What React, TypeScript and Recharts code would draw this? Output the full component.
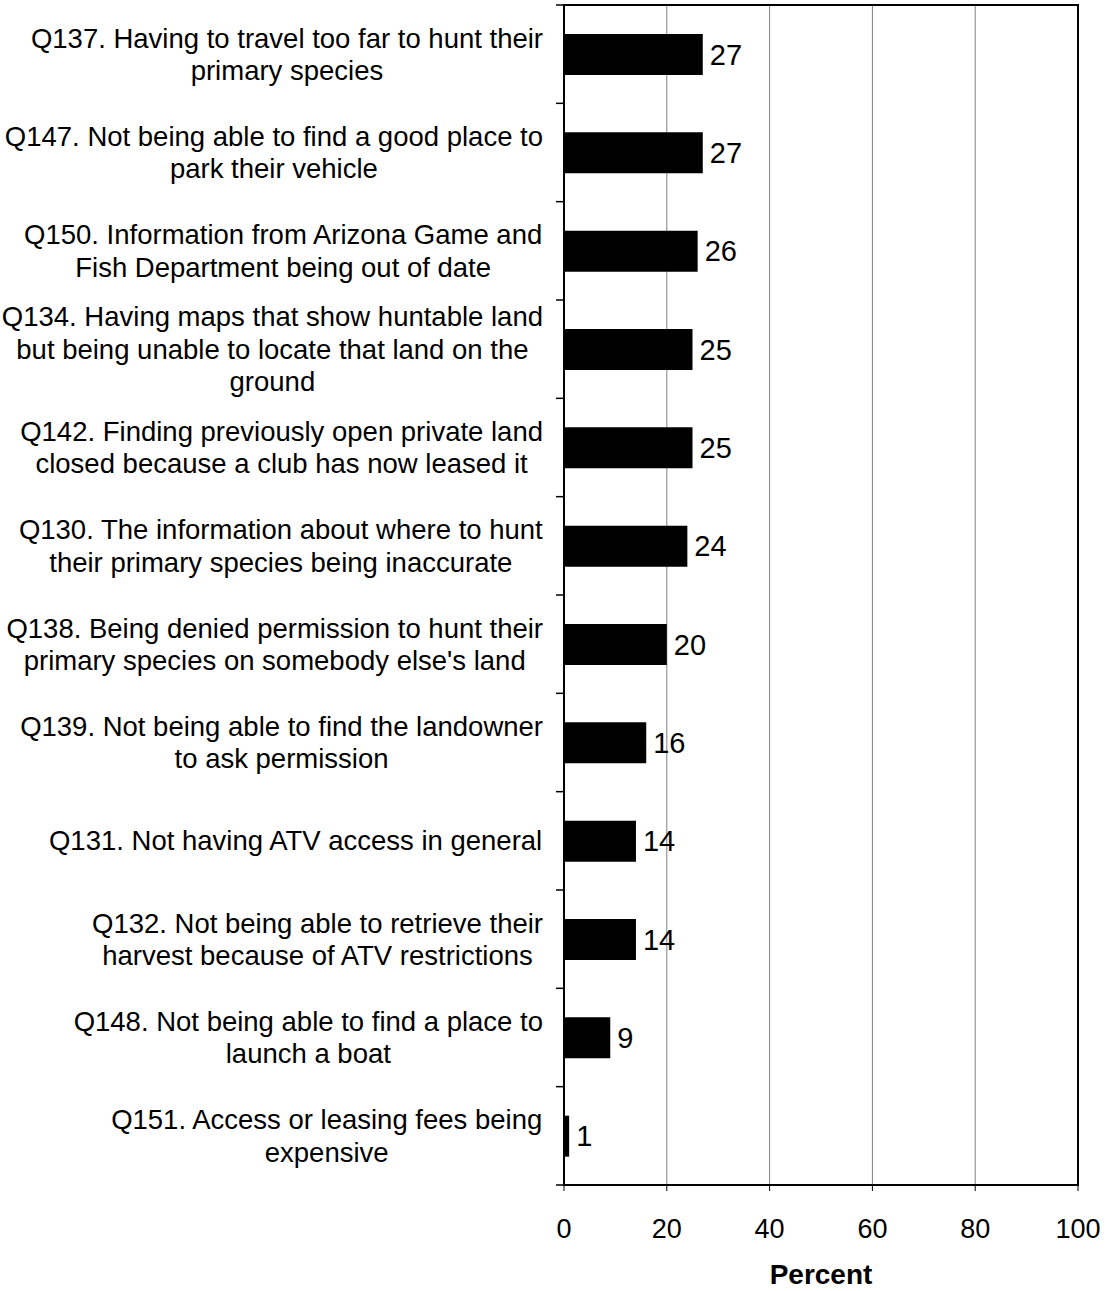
import React from "react";
import {
  BarChart,
  Bar,
  XAxis,
  YAxis,
  CartesianGrid,
  LabelList,
  ReferenceArea,
} from "recharts";

const questions = [
  "Q137. Having to travel too far to hunt their\nprimary species",
  "Q147. Not being able to find a good place to\npark their vehicle",
  "Q150. Information from Arizona Game and\nFish Department being out of date",
  "Q134. Having maps that show huntable land\nbut being unable to locate that land on the\nground",
  "Q142. Finding previously open private land\nclosed because a club has now leased it",
  "Q130. The information about where to hunt\ntheir primary species being inaccurate",
  "Q138. Being denied permission to hunt their\nprimary species on somebody else's land",
  "Q139. Not being able to find the landowner\nto ask permission",
  "Q131. Not having ATV access in general",
  "Q132. Not being able to retrieve their\nharvest because of ATV restrictions",
  "Q148. Not being able to find a place to\nlaunch a boat",
  "Q151. Access or leasing fees being\nexpensive",
];

const percents = [27, 27, 26, 25, 25, 24, 20, 16, 14, 14, 9, 1];

const percentTicks = [0, 20, 40, 60, 80, 100];

const data = questions.map((q, i) => ({ question: q, percent: percents[i] }));

const W = 1108;
const H = 1291;
const TOP = 5;
const X_AXIS_H = 106;
const Y_AXIS_W = 564;
const PLOT_H = H - TOP - X_AXIS_H;
const FONT = '"Liberation Sans", Arial, sans-serif';
const LABEL_SIZE = 27.5;
const LINE_H = 32.5;

let ctx: CanvasRenderingContext2D | null = null;
function measure(s: string) {
  if (!ctx) {
    ctx = document.createElement("canvas").getContext("2d");
  }
  if (!ctx) return s.length * LABEL_SIZE * 0.5;
  ctx.font = `${LABEL_SIZE}px "Liberation Sans", Arial`;
  return ctx.measureText(s).width;
}

function QuestionTick(props: any) {
  const { y, payload, index } = props;
  const lines: string[] = String(payload.value).split("\n");
  const right = Y_AXIS_W - 21;
  const blockW = Math.max(...lines.map(measure));
  const cx = right - blockW / 2;
  const step = PLOT_H / questions.length;
  return (
    <g>
      <line x1={Y_AXIS_W - 8} x2={Y_AXIS_W} y1={y - step / 2} y2={y - step / 2} stroke="#000" strokeWidth={1.5} />
      {index === questions.length - 1 && (
        <line x1={Y_AXIS_W - 8} x2={Y_AXIS_W} y1={y + step / 2} y2={y + step / 2} stroke="#000" strokeWidth={1.5} />
      )}
      <text fontSize={LABEL_SIZE} fontFamily={FONT} fill="#000" textAnchor="middle">
        {lines.map((l, i) => (
          <tspan key={i} x={cx} y={y + (i - (lines.length - 1) / 2) * LINE_H} dy="0.35em">
            {l}
          </tspan>
        ))}
      </text>
    </g>
  );
}

export default function App() {
  return (
    <div style={{ position: "absolute", left: 0, top: 0, fontFamily: FONT, background: "#fff" }}>
      <BarChart
        width={W}
        height={H}
        data={data}
        layout="vertical"
        margin={{ top: TOP, right: 30, bottom: 0, left: 0 }}
      >
        <CartesianGrid horizontal={false} stroke="#808080" strokeWidth={1} />
        <XAxis
          type="number"
          domain={[0, 100]}
          ticks={percentTicks}
          interval={0}
          height={X_AXIS_H}
          tickSize={6}
          tickMargin={28}
          stroke="#000"
          axisLine={{ stroke: "#000", strokeWidth: 2 }}
          tickLine={{ stroke: "#000", strokeWidth: 1 }}
          tick={{ fontSize: 27, fill: "#000", fontFamily: FONT }}
          label={{
            value: "Percent",
            position: "insideBottom",
            offset: 7,
            fontSize: 28,
            fontWeight: "bold",
            fill: "#000",
            fontFamily: FONT,
          }}
        />
        <YAxis
          type="category"
          dataKey="question"
          width={Y_AXIS_W}
          interval={0}
          tickLine={false}
          axisLine={{ stroke: "#000", strokeWidth: 2 }}
          tick={<QuestionTick />}
        />
        <ReferenceArea x1={0} x2={100} fill="none" stroke="#000" strokeWidth={2} ifOverflow="visible" />
        <Bar dataKey="percent" fill="#000" barSize={41} isAnimationActive={false}>
          <LabelList
            dataKey="percent"
            position="right"
            offset={7}
            fontSize={29}
            fill="#000"
            fontFamily={FONT}
          />
        </Bar>
      </BarChart>
    </div>
  );
}
